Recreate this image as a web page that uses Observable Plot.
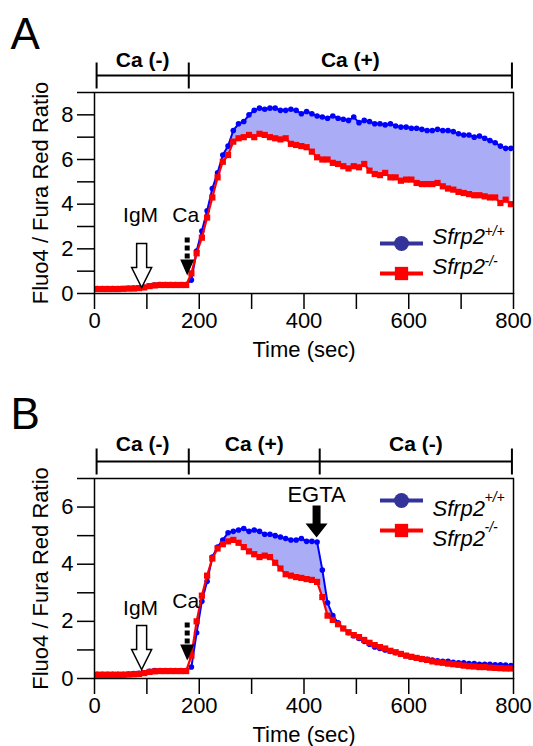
<!DOCTYPE html>
<html>
<head>
<meta charset="utf-8">
<script src="https://cdn.jsdelivr.net/npm/d3@7"></script>
<script src="https://cdn.jsdelivr.net/npm/@observablehq/plot@0.6"></script>
<style>
  body { margin: 0; background: #fff; }
  #chart { width: 533px; }
  #chart svg { display: block; }
  g[aria-label="x-axis tick"], g[aria-label="y-axis tick"] { stroke-width: 1.5px; }
</style>
</head>
<body>
<div id="chart"></div>
<script>
// ---------- data ----------
const time = [5,15,25,35,45,55,65,75,85,95,105,115,125,135,145,155,165,175,
  185,195,205,215,225,235,245,255,265,275,285,295,305,315,325,335,345,355,365,375,
  385,395,405,415,425,435,445,455,465,475,485,495,505,515,525,535,545,555,565,575,
  585,595,605,615,625,635,645,655,665,675,685,695,705,715,725,735,745,755,765,775,785,795];

// Panel A
const aWildType = [0.22,0.22,0.22,0.22,0.22,0.22,0.23,0.24,0.25,0.28,0.35,0.38,0.40,0.40,0.40,0.40,0.40,0.40,
  0.6,1.9,2.8,3.7,4.7,5.4,6.2,6.6,7.3,7.6,
  7.7,8.0,8.2,8.3,8.25,8.3,8.3,8.2,8.2,8.25,
  8.2,8.05,8.15,8.05,7.95,7.9,7.85,7.95,7.85,7.8,
  7.75,7.9,7.65,7.75,7.7,7.6,7.6,7.55,7.6,7.5,
  7.45,7.45,7.4,7.4,7.35,7.3,7.3,7.35,7.3,7.3,
  7.25,7.15,7.1,7.1,7.0,7.05,6.95,6.85,6.75,6.6,
  6.5,6.5];
const aKnockout = [0.20,0.20,0.20,0.20,0.20,0.21,0.22,0.22,0.24,0.27,0.33,0.36,0.38,0.38,0.38,0.38,0.38,0.38,
  0.9,1.8,2.5,3.4,4.3,5.2,5.9,6.2,6.8,6.95,
  7.0,7.1,7.0,7.15,7.1,7.0,6.95,6.9,6.95,6.7,
  6.65,6.6,6.55,6.35,6.1,6.0,6.0,5.85,5.8,5.7,
  5.6,5.7,5.65,5.8,5.5,5.35,5.3,5.4,5.2,5.2,
  5.05,5.1,5.1,4.95,4.9,4.9,4.9,4.95,4.8,4.7,
  4.65,4.55,4.5,4.45,4.4,4.4,4.35,4.3,4.3,4.05,
  4.2,4.0];

// Panel B
const bWildType = [0.15,0.15,0.15,0.15,0.15,0.15,0.16,0.17,0.18,0.20,0.25,0.28,0.28,0.28,0.28,0.28,0.28,0.28,
  0.4,1.6,2.7,3.4,4.25,4.6,4.85,5.1,5.15,5.2,
  5.25,5.15,5.2,5.15,5.05,5.05,5.0,4.95,4.9,4.85,
  4.85,4.9,4.8,4.8,4.78,3.8,2.65,2.2,1.95,1.75,
  1.6,1.5,1.4,1.3,1.2,1.1,1.05,1.0,0.95,0.9,
  0.85,0.8,0.75,0.72,0.7,0.67,0.65,0.62,0.6,0.6,
  0.57,0.55,0.55,0.52,0.52,0.5,0.5,0.5,0.48,0.48,
  0.47,0.45];
const bKnockout = [0.13,0.13,0.13,0.13,0.13,0.13,0.14,0.15,0.16,0.19,0.23,0.25,0.26,0.26,0.26,0.26,0.26,0.26,
  0.8,2.0,2.9,3.6,4.2,4.55,4.7,4.8,4.85,4.75,
  4.6,4.45,4.35,4.25,4.3,4.25,4.05,3.85,3.65,3.6,
  3.55,3.52,3.48,3.45,3.38,2.85,2.2,2.05,1.9,1.75,
  1.62,1.52,1.45,1.35,1.25,1.17,1.1,1.05,0.97,0.92,
  0.86,0.8,0.76,0.72,0.68,0.65,0.6,0.57,0.55,0.52,
  0.5,0.48,0.45,0.43,0.42,0.4,0.4,0.38,0.37,0.36,
  0.35,0.35];

// ticks
const xTicks = [0,100,200,300,400,500,600,700,800];
const yTicksA = [0,1,2,3,4,5,6,7,8,9];
const yTicksB = [0,1,2,3,4,5,6,7];

// phase brackets (seconds)
const phaseLabelsA = ["Ca (-)", "Ca (+)"];
const phaseBoundsA = [4, 180, 797];
const phaseLabelsB = ["Ca (-)", "Ca (+)", "Ca (-)"];
const phaseBoundsB = [4, 180, 430, 797];

// treatment annotations (seconds)
const igmTime = 90;
const caTime = 177;
const egtaTime = 424;

// legend
const seriesNames = ["Sfrp2", "Sfrp2"];
const seriesSup = ["+/+", "-/-"];

// ---------- styles ----------
const FONT = "'Liberation Sans', Arial, Helvetica, sans-serif";
const BLUE = "#0000ff", RED = "#ff0000", FILL = "#aaacf5", LEG_BLUE = "#333399";

const hline = {draw(ctx) { ctx.rect(-21.5, -2, 43, 4); }};
const hollowArrow = {draw(ctx) {
  ctx.moveTo(-5, -22); ctx.lineTo(5, -22); ctx.lineTo(5, 2); ctx.lineTo(10, 2);
  ctx.lineTo(0, 22); ctx.lineTo(-10, 2); ctx.lineTo(-5, 2); ctx.closePath();
}};
const dashArrow = {draw(ctx) {
  ctx.rect(-2.5, -19, 5, 5); ctx.rect(-2.5, -11, 5, 5); ctx.rect(-2.5, -3, 5, 5);
  ctx.moveTo(-7, 3); ctx.lineTo(7, 3); ctx.lineTo(0, 19); ctx.closePath();
}};
const solidArrow = {draw(ctx) {
  ctx.moveTo(-4, -16); ctx.lineTo(4, -16); ctx.lineTo(4, 2); ctx.lineTo(11, 2);
  ctx.lineTo(0, 16); ctx.lineTo(-11, 2); ctx.lineTo(-4, 2); ctx.closePath();
}};
const bracketTick = {draw(ctx) { ctx.rect(-1, -13, 2, 26); }};

function rows(wt, ko) { return time.map((t, i) => ({t, wt: wt[i], ko: ko[i]})); }
function phases(labels, bounds) { return labels.map((label, i) => ({label, start: bounds[i], end: bounds[i + 1]})); }

function legendMarks(anchor, dys) {
  const marks = [];
  const syms = ["circle", "square"], rs = [7.5, 7.5], cols = [LEG_BLUE, RED];
  seriesNames.forEach((name, i) => {
    marks.push(Plot.dot([0], {frameAnchor: anchor, dx: -112, dy: dys[i], symbol: hline, fill: cols[i], stroke: "none"}));
    marks.push(Plot.dot([0], {frameAnchor: anchor, dx: -112, dy: dys[i], symbol: syms[i], r: rs[i], fill: cols[i], stroke: "none"}));
    marks.push(Plot.text([name], {frameAnchor: anchor, dx: -81, dy: dys[i], textAnchor: "start", fontSize: 22, fontStyle: "italic"}));
    marks.push(Plot.text([seriesSup[i]], {frameAnchor: anchor, dx: -29, dy: dys[i] - 8, textAnchor: "start", fontSize: 14, fontStyle: "italic"}));
  });
  return marks;
}

function panel(cfg) {
  const data = rows(cfg.wt, cfg.ko);
  const ph = phases(cfg.phaseLabels, cfg.phaseBounds);
  const yMax = cfg.yTicks[cfg.yTicks.length - 1];
  const marks = [
    Plot.areaY(data, {x: "t", y1: "ko", y2: d => Math.max(d.wt, d.ko), fill: FILL}),
    Plot.line(data, {x: "t", y: "wt", stroke: BLUE, strokeWidth: 2}),
    Plot.dot(data, {x: "t", y: "wt", r: 2.8, fill: BLUE, stroke: "none"}),
    Plot.line(data, {x: "t", y: "ko", stroke: RED, strokeWidth: 2.2}),
    Plot.dot(data, {x: "t", y: "ko", symbol: "square", r: 3.5, fill: RED, stroke: "none"}),
    Plot.frame({strokeWidth: 1.5}),
    // phase bracket
    Plot.ruleY(ph, {y: yMax, x1: "start", x2: "end", dy: -17, strokeWidth: 1.8}),
    Plot.dot(cfg.phaseBounds, {x: d => d, frameAnchor: "top", dy: -17, symbol: bracketTick, fill: "black", stroke: "none"}),
    Plot.text(ph, {x: d => (d.start + d.end) / 2, text: "label", frameAnchor: "top", textAnchor: "middle", dy: cfg.phaseDy, fontSize: 21, fontWeight: "bold"}),
    // panel letter
    Plot.text([cfg.letter], {frameAnchor: "top-left", dx: -84, dy: cfg.letterDy, textAnchor: "start", fontSize: 44}),
    // axis titles
    Plot.text(["Fluo4 / Fura Red Ratio"], {frameAnchor: "left", dx: -54, rotate: -90, textAnchor: "middle", fontSize: 22}),
    Plot.text(["Time (sec)"], {frameAnchor: "bottom", dy: 63, textAnchor: "middle", fontSize: 22}),
    // annotations
    Plot.dot([igmTime], {x: d => d, frameAnchor: "bottom", dy: cfg.igmArrowDy, symbol: hollowArrow, fill: "white", stroke: "black", strokeWidth: 1.5}),
    Plot.text(["IgM"], {x: [igmTime - 2], frameAnchor: "bottom", textAnchor: "middle", dy: cfg.igmTextDy, fontSize: 21}),
    Plot.dot([caTime], {x: d => d, frameAnchor: "bottom", dy: -37, symbol: dashArrow, fill: "black", stroke: "none"}),
    Plot.text(["Ca"], {x: [caTime - 3], frameAnchor: "bottom", textAnchor: "middle", dy: cfg.caTextDy, fontSize: 21}),
    ...legendMarks(cfg.legendAnchor, cfg.legendDys)
  ];
  if (cfg.egta) {
    marks.push(Plot.text(["EGTA"], {x: [egtaTime], frameAnchor: "top", textAnchor: "middle", dy: 8, fontSize: 22}));
    marks.push(Plot.dot([egtaTime], {x: d => d, frameAnchor: "top", dy: 43, symbol: solidArrow, fill: "black", stroke: "none"}));
  }
  return Plot.plot({
    width: 533,
    height: cfg.height,
    marginLeft: 94,
    marginRight: 20,
    marginTop: cfg.marginTop,
    marginBottom: cfg.marginBottom,
    style: {fontFamily: FONT, fontSize: "22px", color: "black", background: "white", overflow: "visible"},
    x: {domain: [0, 800], ticks: xTicks, tickFormat: d => d % 200 === 0 ? String(d) : "", tickSize: 16, tickPadding: 3, label: null},
    y: {domain: [0, yMax], ticks: cfg.yTicks, tickFormat: d => d % 2 === 0 ? String(d) : "", tickSize: 17, tickPadding: 4, label: null},
    marks
  });
}

const chart = document.getElementById("chart");
chart.appendChild(panel({
  letter: "A", wt: aWildType, ko: aKnockout, yTicks: yTicksA,
  phaseLabels: phaseLabelsA, phaseBounds: phaseBoundsA,
  height: 370, marginTop: 92, marginBottom: 77,
  phaseDy: -40, letterDy: -75,
  igmArrowDy: -28, igmTextDy: -72, caTextDy: -72,
  legendAnchor: "bottom-right", legendDys: [-50, -20], egta: false
}));
chart.appendChild(panel({
  letter: "B", wt: bWildType, ko: bKnockout, yTicks: yTicksB,
  phaseLabels: phaseLabelsB, phaseBounds: phaseBoundsB,
  height: 376, marginTop: 108, marginBottom: 68,
  phaseDy: -42, letterDy: -81,
  igmArrowDy: -31, igmTextDy: -64, caTextDy: -71,
  legendAnchor: "top-right", legendDys: [22, 52], egta: true
}));
</script>
</body>
</html>
